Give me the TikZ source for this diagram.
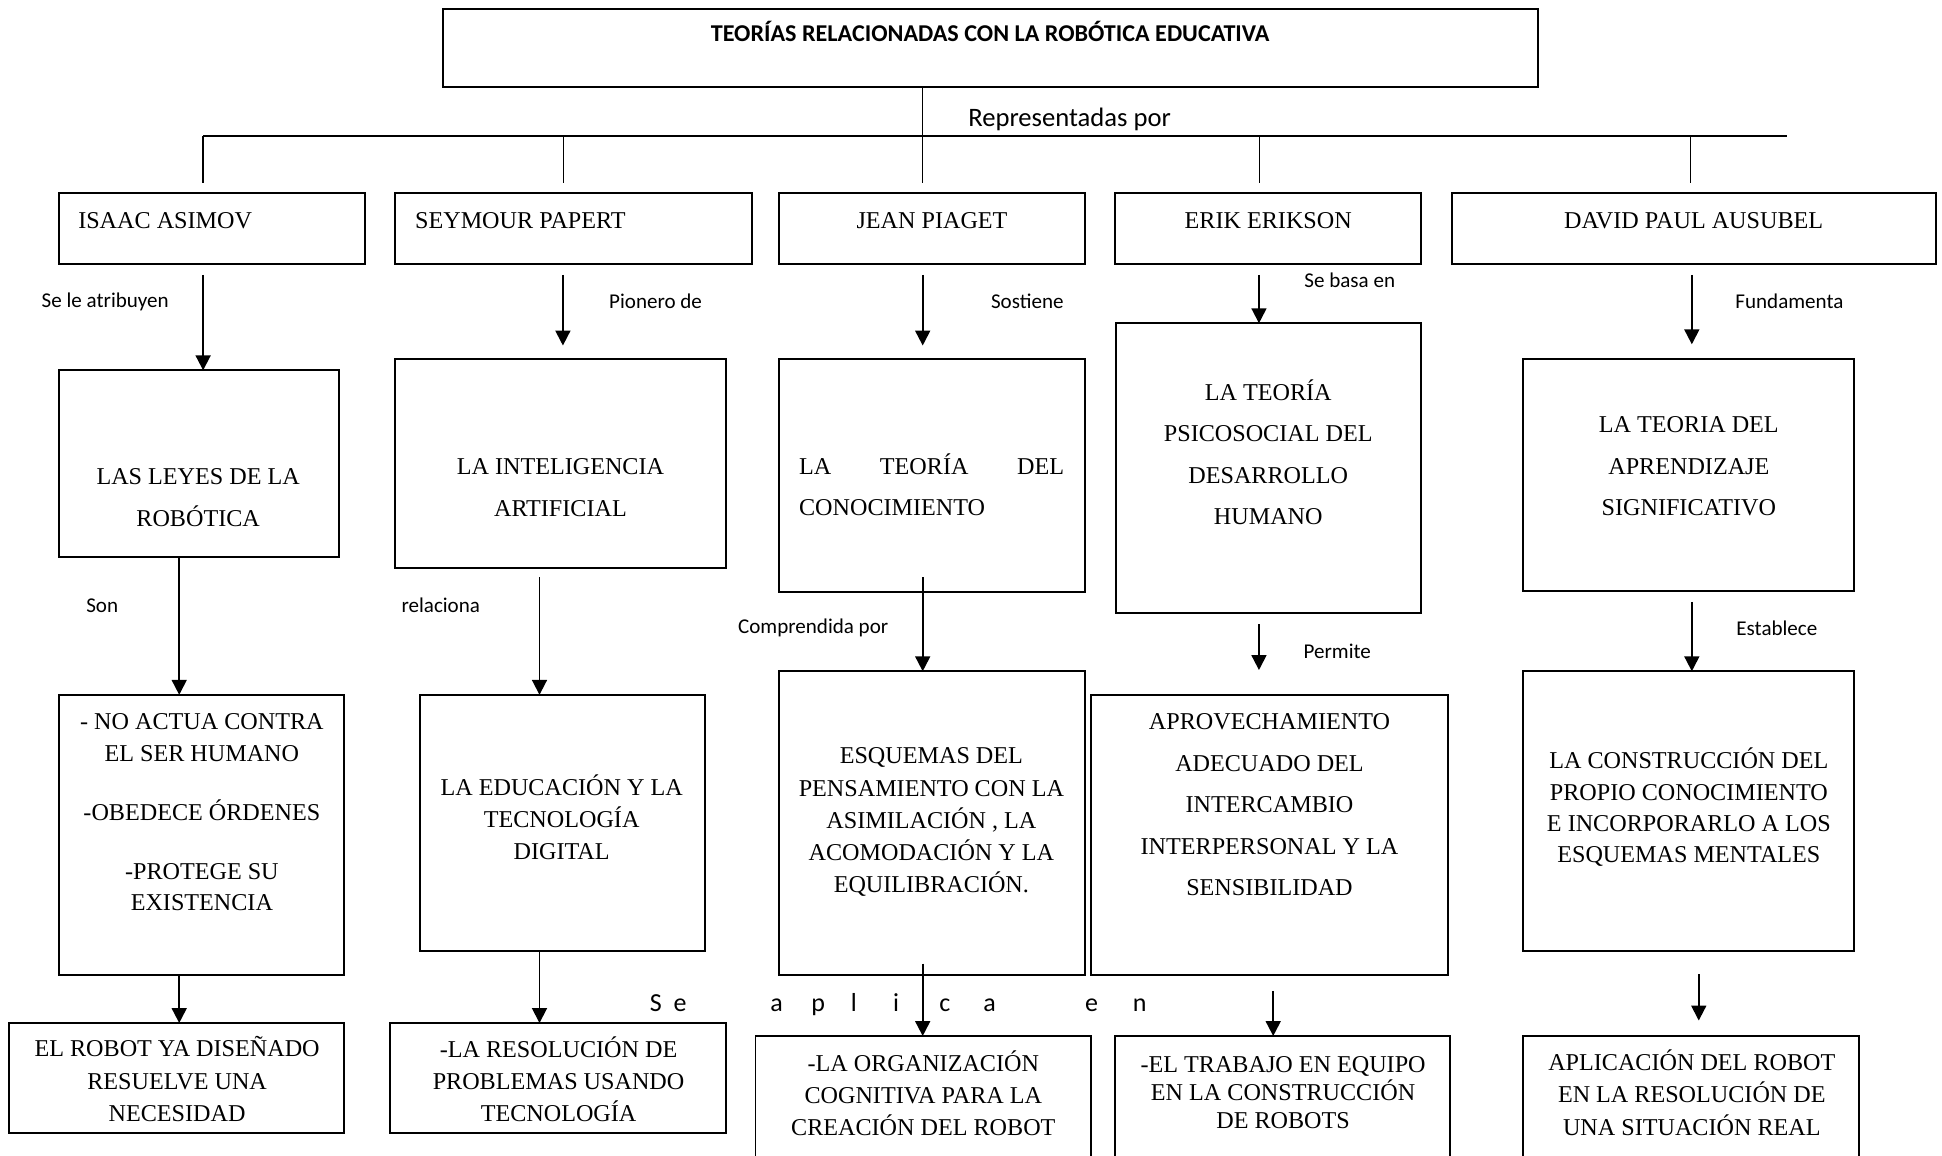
\documentclass[tikz,border=0pt]{standalone}
\usepackage{fontspec}
\setmainfont{Liberation Serif}
\newfontfamily\lblfont{Carlito}
\usetikzlibrary{arrows.meta,fit}

\begin{document}
\begin{tikzpicture}[x=1pt,y=-1pt,
  box/.style={draw, line width=1.6pt, inner sep=0pt, outer sep=0pt},
  rtxt/.style={inner sep=0pt, font=\fontsize{19.5}{26}\selectfont},
  btxt/.style={inner sep=0pt, align=center, font=\fontsize{19.5}{26}\selectfont,
    execute at begin node=\strut, execute at end node=\strut},
  btxtw/.style={btxt, font=\fontsize{19.5}{33.5}\selectfont},
  lbl/.style={inner sep=0pt, anchor=west, font=\lblfont\fontsize{17}{20}\selectfont},
  arr/.style={line width=1.5pt, -{Triangle[length=12pt,width=12pt]}},
  link/.style={line width=1.1pt}
]
\useasboundingbox (0,0) rectangle (1568,933);

% title
\node[box, fit={(358,7) (1242,70)}] (title) {};
\node[inner sep=0pt, anchor=base, font=\lblfont\bfseries\fontsize{19.5}{23}\selectfont] (titlet) at (799.5,33.3) {TEORÍAS RELACIONADAS CON LA ROBÓTICA EDUCATIVA};

\node[inner sep=0pt, anchor=west, font=\lblfont\fontsize{21.5}{25}\selectfont] (rep) at (781.6,96.5) {Representadas por};

% bar and drops
\coordinate (barL) at (164,110);
\coordinate (barR) at (1443,110);
\coordinate (dropA) at (164,148);
\coordinate (dropB) at (455,148);
\coordinate (dropC) at (745,148);
\coordinate (dropD) at (1017,148);
\coordinate (dropE) at (1365,148);
\draw[line width=1.4pt] (barL) -- (barR);
\draw[link] (title.south -| dropC) -- (dropC);
\draw[link] (dropA |- barL) -- (dropA);
\draw[link] (dropB |- barL) -- (dropB);
\draw[link] (dropD |- barL) -- (dropD);
\draw[link] (dropE |- barL) -- (dropE);

% row 1
\node[box, fit={(48,156) (295,213)}] (a1) {};
\node[box, fit={(319,156) (607,213)}] (b1) {};
\node[box, fit={(629,156) (876,213)}] (c1) {};
\node[box, fit={(900,156) (1147,213)}] (d1) {};
\node[box, fit={(1172,156) (1563,213)}] (e1) {};
\node[rtxt, anchor=base west] (a1t) at (63,184.3) {ISAAC ASIMOV};
\node[rtxt, anchor=base west] (b1t) at (335,184.3) {SEYMOUR PAPERT};
\node[rtxt, anchor=base] (c1t) at (752.5,184.3) {JEAN PIAGET};
\node[rtxt, anchor=base] (d1t) at (1024,184.3) {ERIK ERIKSON};
\node[rtxt, anchor=base] (e1t) at (1367.5,184.3) {DAVID PAUL AUSUBEL};

% row 2
\node[box, fit={(48,299) (274,450)}] (a2) {};
\node[box, fit={(319,290) (586,459)}] (b2) {};
\node[box, fit={(629,290) (876,478)}] (c2) {};
\node[box, fit={(901,261) (1147,495)}] (d2) {};
\node[box, fit={(1230,290) (1497,477)}] (e2) {};
\node[btxtw] (a2t) at (160,406.7) {LAS LEYES DE LA\\ROBÓTICA};
\node[btxtw] (b2t) at (452.5,398.5) {LA INTELIGENCIA\\ARTIFICIAL};
\node[btxtw, align=left, anchor=west] (c2t) at (645,396.5) {\makebox[214pt][s]{LA\hfill TEORÍA\hfill DEL}\\CONOCIMIENTO};
\node[btxtw] (d2t) at (1024,370) {LA TEORÍA\\PSICOSOCIAL DEL\\DESARROLLO\\HUMANO};
\node[btxtw] (e2t) at (1363.6,381.5) {LA TEORIA DEL\\APRENDIZAJE\\SIGNIFICATIVO};

% row 3
\node[box, fit={(48,561) (278,787)}] (a3) {};
\node[box, fit={(339,561) (569,768)}] (b3) {};
\node[box, fit={(629,542) (876,787)}] (c3) {};
\node[box, fit={(881,561) (1169,787)}] (d3) {};
\node[box, fit={(1230,542) (1497,768)}] (e3) {};
\node[btxt, font=\fontsize{19.5}{25.5}\selectfont] (a3t) at (163,659.6) {- NO ACTUA CONTRA\\EL SER HUMANO\\[22pt]-OBEDECE ÓRDENES\\[22pt]-PROTEGE SU\\EXISTENCIA};
\node[btxt] (b3t) at (453.5,663.8) {LA EDUCACIÓN Y LA\\TECNOLOGÍA\\DIGITAL};
\node[btxt] (c3t) at (752,666.2) {ESQUEMAS DEL\\PENSAMIENTO CON LA\\ASIMILACIÓN , LA\\ACOMODACIÓN Y LA\\EQUILIBRACIÓN.};
\node[btxtw] (d3t) at (1025,654.9) {APROVECHAMIENTO\\ADECUADO DEL\\INTERCAMBIO\\INTERPERSONAL Y LA\\SENSIBILIDAD};
\node[btxt, font=\fontsize{19.5}{25.3}\selectfont] (e3t) at (1363.6,654.2) {LA CONSTRUCCIÓN DEL\\PROPIO CONOCIMIENTO\\E INCORPORARLO A LOS\\ESQUEMAS MENTALES};

% row 4
\node[box, fit={(7,826) (278,915)}] (a4) {};
\node[box, fit={(315,826) (586,915)}] (b4) {};
\node[box, fit={(610,836.5) (881,945)}] (c4) {};
\node[box, fit={(900,836.5) (1171,945)}] (d4) {};
\node[box, fit={(1230,836.5) (1501,945)}] (e4) {};
\node[btxt] (a4t) at (143,875.1) {EL ROBOT YA DISEÑADO\\RESUELVE UNA\\NECESIDAD};
\node[btxt] (b4t) at (451,875.1) {-LA RESOLUCIÓN DE\\PROBLEMAS USANDO\\TECNOLOGÍA};
\node[btxt] (c4t) at (745.5,886.4) {-LA ORGANIZACIÓN\\COGNITIVA PARA LA\\CREACIÓN DEL ROBOT};
\node[btxt, font=\fontsize{19.5}{22.5}\selectfont] (d4t) at (1036,885.5) {-EL TRABAJO EN EQUIPO\\EN LA CONSTRUCCIÓN\\DE ROBOTS};
\node[btxt] (e4t) at (1366,886) {APLICACIÓN DEL ROBOT\\EN LA RESOLUCIÓN DE\\UNA SITUACIÓN REAL};

% arrows row1 -> row2
\coordinate (aA) at (164,222);
\coordinate (aB) at (454.5,222);
\coordinate (aBe) at (454.5,279);
\coordinate (aC) at (745,222);
\coordinate (aCe) at (745,279);
\coordinate (aD) at (1016.5,222);
\coordinate (aE) at (1366,222);
\coordinate (aEe) at (1366,278);
\draw[arr] (aA) -- (aA |- a2.north);
\draw[arr] (aB) -- (aBe);
\draw[arr] (aC) -- (aCe);
\draw[arr] (aD) -- (aD |- d2.north);
\draw[arr] (aE) -- (aEe);

% arrows row2 -> row3
\coordinate (bA) at (144.7,450);
\coordinate (bB) at (435.6,466);
\coordinate (bC) at (745,466);
\coordinate (bD) at (1016.5,504);
\coordinate (bDe) at (1016.5,541);
\coordinate (bE) at (1366,486);
\draw[arr] (a2.south -| bA) -- (bA |- a3.north);
\draw[arr] (bB) -- (bB |- b3.north);
\draw[arr] (bC) -- (bC |- c3.north);
\draw[arr] (bD) -- (bDe);
\draw[arr] (bE) -- (bE |- e3.north);

% arrows row3 -> row4
\coordinate (cA) at (144.7,787);
\coordinate (cB) at (435.6,768);
\coordinate (cC) at (745,778);
\coordinate (cD) at (1028,800);
\coordinate (cE) at (1371.6,786.5);
\coordinate (cEe) at (1371.6,824);
\draw[arr] (a3.south -| cA) -- (cA |- a4.north);
\draw[arr] (b3.south -| cB) -- (cB |- b4.north);
\draw[arr] (cC) -- (cC |- c4.north);
\draw[arr] (cD) -- (cD |- d4.north);
\draw[arr] (cE) -- (cEe);

% labels
\node[lbl] (l1) at (33.5,243.5) {Se le atribuyen};
\node[lbl] (l2) at (491.7,243.5) {Pionero de};
\node[lbl] (l3) at (800,243.5) {Sostiene};
\node[lbl] (l4) at (1053,226.5) {Se basa en};
\node[lbl] (l5) at (1401,243.5) {Fundamenta};
\node[lbl] (l6) at (69.5,489) {Son};
\node[lbl] (l7) at (324,489) {relaciona};
\node[lbl] (l8) at (595.8,507) {Comprendida por};
\node[lbl] (l9) at (1052.4,526) {Permite};
\node[lbl] (l10) at (1401.8,507) {Establece};

\node[inner sep=0pt, anchor=base west, font=\lblfont\fontsize{21}{25}\selectfont] (seaplican) at (524.5,816.8)
 {\makebox[19.1pt][l]{S}\makebox[78.3pt][l]{e}\makebox[33pt][l]{a}\makebox[32pt][l]{p}\makebox[34pt][l]{l}\makebox[37.5pt][l]{i}\makebox[35.5pt][l]{c}\makebox[82pt][l]{a}\makebox[38.6pt][l]{e}n};
\end{tikzpicture}
\end{document}
